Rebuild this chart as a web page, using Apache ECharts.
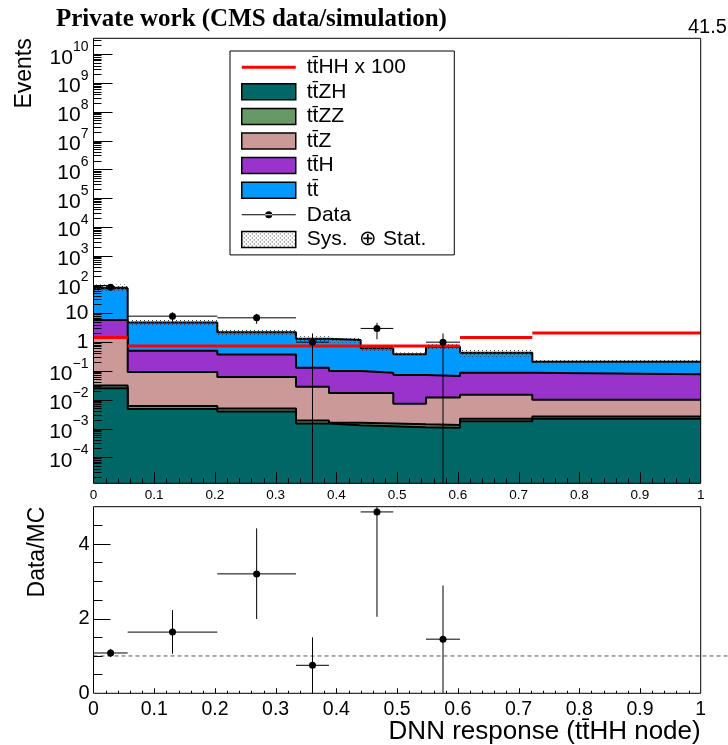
<!DOCTYPE html>
<html><head><meta charset="utf-8">
<script src="https://cdn.jsdelivr.net/npm/echarts@6/dist/echarts.min.js"></script>
<style>html,body{margin:0;padding:0;background:#fff}#c{width:728px;height:745px}</style>
</head><body><div id="c"></div>
<script>
// ---------------- data ----------------
const binEdges = [0, 0.0563, 0.2039, 0.3335, 0.3878, 0.44, 0.4937, 0.5476, 0.6036, 0.7227, 1];
// background yields per bin (stacked bottom -> top)
const ttZH = [0.025, 0.0048, 0.0039, 0.0015, 0.0013, 0.0012, 0.0011, 0.00107, 0.0018, 0.0022];
const ttZZ = [0.006, 0.0012, 0.0011, 0.0004, 0.0003, 0.0003, 0.0003, 0.00025, 0.0004, 0.0004];
const ttZ  = [1.37, 0.0852, 0.0561, 0.0261, 0.0154, 0.0155, 0.0058, 0.0107, 0.0127, 0.0074];
const ttH  = [4.5, 0.409, 0.309, 0.102, 0.083, 0.070, 0.0658, 0.055, 0.072, 0.067];
const tt   = [69.1, 4.35, 1.83, 1.19, 1.1, 0.533, 0.307, 0.623, 0.343, 0.133];
// signal x100
const ttHHx100 = [1.45, 0.74, 0.74, 0.74, 0.74, 0.74, 0.73, 0.74, 1.45, 2.1];
// syst (+) stat band edges
const bandUp   = [100, 6.0, 2.7, 1.6, 1.45, 0.8, 0.44, 0.85, 0.55, 0.25];
const bandDown = [56, 3.7, 1.7, 1.05, 0.95, 0.47, 0.33, 0.56, 0.31, 0.17];
// data
const dataVal = [81, 8, 7, 1, null, 3, null, 1, null, null];
const dataErr = [9, 2.83, 2.65, 1, null, 1.73, null, 1, null, null];
// ratio panel
const ratioVal  = [1.08, 1.64, 3.2, 0.75, null, 4.86, null, 1.45, null, null];
const ratioLow  = [0.97, 1.06, 1.99, 0, null, 2.05, null, 0, null, null];
const ratioHigh = [1.19, 2.23, 4.42, 1.5, null, 7.7, null, 2.89, null, null];
// axis ticks
const logMajor = [1e-4,1e-3,1e-2,1e-1,1,10,1e2,1e3,1e4,1e5,1e6,1e7,1e8,1e9,1e10];
const ratioMajor = [0, 2, 4];
const ratioMinor = [0.5, 1, 1.5, 2.5, 3, 3.5, 4.5];
const xMajor = [0.1, 0.2, 0.3, 0.4, 0.5, 0.6, 0.7, 0.8, 0.9];

// ---------------- helpers ----------------
const SANS = 'Liberation Sans, Arial, Helvetica, sans-serif';
const Y_MIN = 1.25e-5, Y_MAX = 3.6e10;
const logMinor = [];
for (let e = -5; e <= 10; e++) for (let k = 2; k <= 9; k++) {
  const v = k * Math.pow(10, e);
  if (v > Y_MIN && v < Y_MAX) logMinor.push(v);
}
const xMinor = [];
for (let k = 1; k < 50; k++) if (k % 5 !== 0) xMinor.push(k / 50);
function dotPattern() {
  const c = document.createElement('canvas'); c.width = 4; c.height = 4;
  const g = c.getContext('2d');
  g.fillStyle = '#3a3a3a';
  g.fillRect(0, 0, 1, 1); g.fillRect(2, 2, 1, 1);
  return { image: c, repeat: 'repeat' };
}
const pattern = dotPattern();
const nb = binEdges.length - 1;
function stepData(arr) {
  const d = [];
  for (let i = 0; i < nb; i++) d.push([binEdges[i], arr[i]]);
  d.push([binEdges[nb], arr[nb - 1]]);
  return d;
}
const colors = { ttZH: '#006666', ttZZ: '#669966', ttZ: '#cc9999', ttH: '#9933cc', tt: '#0099ff' };
const layers = [
  { name: 'tt̄ZH', vals: ttZH, color: colors.ttZH },
  { name: 'tt̄ZZ', vals: ttZZ, color: colors.ttZZ },
  { name: 'tt̄Z',  vals: ttZ,  color: colors.ttZ },
  { name: 'tt̄H',  vals: ttH,  color: colors.ttH },
  { name: 'tt̄',   vals: tt,   color: colors.tt }
];
// cumulative stack (like THStack): each layer drawn from the bottom up to its cumulative sum
const running = new Array(nb).fill(0);
const stackSeries = layers.map((l, k) => {
  const cum = l.vals.map((v, i) => (running[i] += v));
  return {
    name: l.name, type: 'line', xAxisIndex: 0, yAxisIndex: 0,
    step: 'end', data: stepData(cum.slice()),
    symbol: 'none', showSymbol: false, z: 9 - k, color: l.color,
    lineStyle: { color: '#000', width: 2 },
    areaStyle: { color: l.color, opacity: 1, origin: 'start' },
    emphasis: { disabled: true }, silent: true
  };
});

const bandData = [];
for (let i = 0; i < nb; i++) bandData.push([binEdges[i], binEdges[i + 1], bandDown[i], bandUp[i]]);
const sigData = [];
for (let i = 0; i < nb; i++) sigData.push([binEdges[i], binEdges[i + 1], ttHHx100[i]]);
const dataPts = [], ratioPts = [];
for (let i = 0; i < nb; i++) {
  if (dataVal[i] == null) continue;
  const xc = (binEdges[i] + binEdges[i + 1]) / 2;
  const lo = dataVal[i] - dataErr[i];
  dataPts.push([xc, dataVal[i], binEdges[i], binEdges[i + 1], lo > 0 ? lo : 1e-7, dataVal[i] + dataErr[i]]);
  ratioPts.push([xc, ratioVal[i], binEdges[i], binEdges[i + 1], ratioLow[i], ratioHigh[i]]);
}
function errRender(r) {
  return function (params, api) {
    const xc = api.value(0), y = api.value(1), x0 = api.value(2), x1 = api.value(3), y0 = api.value(4), y1 = api.value(5);
    const c = api.coord([xc, y]), l = api.coord([x0, y]), rr = api.coord([x1, y]);
    const d = api.coord([xc, y0]), u = api.coord([xc, y1]);
    const st = { stroke: '#000', lineWidth: 1 };
    return { type: 'group', children: [
      { type: 'line', shape: { x1: l[0], y1: l[1], x2: rr[0], y2: rr[1] }, style: st },
      { type: 'line', shape: { x1: d[0], y1: d[1], x2: u[0], y2: u[1] }, style: st },
      { type: 'circle', shape: { cx: c[0], cy: c[1], r: r }, style: { fill: '#000' } }
    ] };
  };
}
function supLabel(v) {
  const e = Math.round(Math.log10(v));
  if (e === 0) return '{n|1}';
  if (e === 1) return '{n|10}';
  return '{b|10}{s|' + (e < 0 ? '\u2212' + (-e) : e) + '}';
}
const fmt01 = v => String(Math.round(v * 10) / 10);
function yTickAxis(grid, type, min, max, values, len) {
  return { gridIndex: grid, type: type, min: min, max: max, z: 15, position: 'left',
    axisLine: { show: false, onZero: false }, axisLabel: { show: false }, splitLine: { show: false },
    axisTick: { show: true, inside: true, length: len, customValues: values, lineStyle: { color: '#000', width: 1 } } };
}
// inside tick marks placed through the axes' own scales: [x, y, length, dir(0=x-axis tick, 1=y-axis tick)]
function tickItems(xs, xLen, yVals, yLen, yBottom) {
  const out = [];
  xs.forEach(v => out.push([v, yBottom, xLen, 0]));
  yVals.forEach(v => out.push([0, v, yLen, 1]));
  return out;
}
const topTicks = tickItems(xMajor, 11, logMajor, 19, Y_MIN).concat(tickItems(xMinor, 5, [], 0, Y_MIN));
const ratioTicks = tickItems(xMajor, 5, [2, 4], 17, 0).concat(tickItems(xMinor, 2.5, [], 0, 0));
function ticksGroup(list) {
  return function (params, api) {
    const children = list.map(it => {
      const p = api.coord([it[0], it[1]]);
      if (it[3] === 0) {
        const x = Math.round(p[0]);
        return { type: 'rect', shape: { x: x, y: p[1] - it[2], width: 1, height: it[2] }, style: { fill: '#000' } };
      }
      const y = Math.round(p[1]);
      return { type: 'rect', shape: { x: p[0], y: y, width: it[2], height: 1 }, style: { fill: '#000' } };
    });
    return { type: 'group', children: children };
  };
}

const chart = echarts.init(document.getElementById('c'), null, { renderer: 'canvas' });
const option = {
  animation: false,
  backgroundColor: '#fff',
  title: [
    { text: 'Private work (CMS data/simulation)', left: 56, top: 7, padding: 0,
      textStyle: { fontFamily: 'Liberation Serif, Times New Roman, serif', fontWeight: 'bold', fontSize: 25, color: '#000' } },
    { text: '41.5 fb\u207B\u00B9 (13 TeV)', left: 688, top: 17, padding: 0,
      textStyle: { fontFamily: SANS, fontWeight: 'normal', fontSize: 20, color: '#000' } }
  ],
  grid: [
    { left: 93.5, right: 27.3, top: 38.3, height: 445, show: true, borderColor: '#000', borderWidth: 1, z: 20, backgroundColor: 'rgba(0,0,0,0)', outerBoundsMode: 'none', containLabel: false },
    { left: 93.5, right: 27.3, top: 506.7, height: 186.6, show: true, borderColor: '#000', borderWidth: 1, z: 20, backgroundColor: 'rgba(0,0,0,0)', outerBoundsMode: 'none', containLabel: false }
  ],
  legend: {
    orient: 'vertical', left: 230, top: 51, z: 30,
    padding: [5.7, 28, 5, 11], itemWidth: 54, itemHeight: 16, itemGap: 3.6,
    borderColor: '#000', borderWidth: 1, backgroundColor: '#fff',
    selectedMode: false, symbolKeepAspect: true,
    textStyle: { fontFamily: SANS, fontSize: 21, color: '#000', lineHeight: 16, padding: [0, 0, 0, 6] },
    data: [
      { name: 'tt̄HH x 100', icon: 'path://M0,0H54V3H0Z', itemStyle: { color: '#ff0000', borderWidth: 0 } },
      { name: 'tt̄ZH', icon: 'rect', itemStyle: { color: colors.ttZH, borderColor: '#000', borderWidth: 1.5 } },
      { name: 'tt̄ZZ', icon: 'rect', itemStyle: { color: colors.ttZZ, borderColor: '#000', borderWidth: 1.5 } },
      { name: 'tt̄Z', icon: 'rect', itemStyle: { color: colors.ttZ, borderColor: '#000', borderWidth: 1.5 } },
      { name: 'tt̄H', icon: 'rect', itemStyle: { color: colors.ttH, borderColor: '#000', borderWidth: 1.5 } },
      { name: 'tt̄', icon: 'rect', itemStyle: { color: colors.tt, borderColor: '#000', borderWidth: 1.5 } },
      { name: 'Data', icon: 'path://M0,7.5H54V8.5H0Z M23.5,8a3.5,3.5 0 1,0 7,0a3.5,3.5 0 1,0 -7,0Z', itemStyle: { color: '#000', borderWidth: 0 } },
      { name: 'Sys.  \u2295 Stat.', icon: 'rect', itemStyle: { color: pattern, borderColor: '#000', borderWidth: 1.5 } }
    ]
  },
  xAxis: [
    { gridIndex: 0, type: 'value', min: 0, max: 1, interval: 0.1, z: 15, position: 'bottom',
      axisLine: { show: false, onZero: false }, axisTick: { show: false }, minorTick: { show: false },
      axisLabel: { fontFamily: SANS, fontSize: 13.5, color: '#000', margin: 5, formatter: fmt01 },
      splitLine: { show: false } },
    { gridIndex: 1, type: 'value', min: 0, max: 1, interval: 0.1, z: 15, position: 'bottom',
      name: 'DNN response (tt̄HH node)', nameLocation: 'end', nameGap: 0, nameMoveOverlap: false,
      nameTextStyle: { fontFamily: SANS, fontSize: 26, color: '#000', align: 'right', verticalAlign: 'top', padding: [26, 0, 0, 0] },
      axisLine: { show: false, onZero: false }, axisTick: { show: false }, minorTick: { show: false },
      axisLabel: { fontFamily: SANS, fontSize: 19.5, color: '#000', margin: 6, formatter: fmt01 },
      splitLine: { show: false } }
  ],
  yAxis: [
    { gridIndex: 0, type: 'log', min: Y_MIN, max: Y_MAX, z: 15, position: 'left',
      name: 'Events', nameLocation: 'end', nameGap: 0, nameRotate: 90, nameMoveOverlap: false,
      nameTextStyle: { fontFamily: SANS, fontSize: 23, color: '#000', align: 'right', verticalAlign: 'bottom', padding: [0, 0, 57, 0] },
      axisLine: { show: false, onZero: false }, axisTick: { show: false },
      axisLabel: { customValues: logMajor, margin: 5, color: '#000', formatter: supLabel,
        rich: {
          n: { fontFamily: SANS, fontSize: 21, color: '#000' },
          b: { fontFamily: SANS, fontSize: 21, color: '#000', lineHeight: 28, verticalAlign: 'bottom' },
          s: { fontFamily: SANS, fontSize: 14, color: '#000', lineHeight: 14, verticalAlign: 'top' }
        } },
      splitLine: { show: false } },
    yTickAxis(0, 'log', Y_MIN, Y_MAX, logMinor, 8),
    { gridIndex: 1, type: 'value', min: 0, max: 5, z: 15, position: 'left',
      name: 'Data/MC', nameLocation: 'end', nameGap: 0, nameRotate: 90, nameMoveOverlap: false,
      nameTextStyle: { fontFamily: SANS, fontSize: 23, color: '#000', align: 'right', verticalAlign: 'bottom', padding: [0, 0, 44, 0] },
      axisLine: { show: false, onZero: false }, axisTick: { show: false },
      axisLabel: { customValues: ratioMajor, fontFamily: SANS, fontSize: 20, color: '#000', margin: 4 },
      splitLine: { show: false } },
    yTickAxis(1, 'value', 0, 5, ratioMinor, 9)
  ],
  series: [
    ...stackSeries,
    { name: 'Sys.  \u2295 Stat.', type: 'custom', xAxisIndex: 0, yAxisIndex: 0, z: 10, clip: true, silent: true,
      data: bandData, encode: { x: [0, 1], y: [2, 3] },
      renderItem: function (params, api) {
        const p1 = api.coord([api.value(0), api.value(3)]);
        const p2 = api.coord([api.value(1), api.value(2)]);
        return { type: 'rect', shape: { x: p1[0], y: p1[1], width: p2[0] - p1[0], height: p2[1] - p1[1] },
          style: { fill: pattern } };
      } },
    { name: 'tt̄HH x 100', type: 'custom', xAxisIndex: 0, yAxisIndex: 0, z: 11, clip: true, silent: true,
      data: sigData, encode: { x: [0, 1], y: 2 },
      renderItem: function (params, api) {
        const a = api.coord([api.value(0), api.value(2)]);
        const b = api.coord([api.value(1), api.value(2)]);
        return { type: 'line', shape: { x1: a[0], y1: a[1], x2: b[0], y2: b[1] }, style: { stroke: '#ff0000', lineWidth: 3 } };
      } },
    { name: 'Data', type: 'custom', xAxisIndex: 0, yAxisIndex: 0, z: 12, clip: true, silent: true,
      data: dataPts, encode: { x: [0, 2, 3], y: [1, 4, 5] }, renderItem: errRender(3.5) },
    { name: 'ratioOne', type: 'custom', xAxisIndex: 1, yAxisIndex: 2, z: 11, clip: false, silent: true,
      data: [[0, 1]], encode: { x: 0, y: 1 },
      renderItem: function (params, api) {
        const a = api.coord([api.value(0), api.value(1)]);
        return { type: 'line', shape: { x1: a[0], y1: a[1], x2: api.getWidth(), y2: a[1] },
          style: { stroke: '#555', lineWidth: 1, lineDash: [4, 3] } };
      } },
    { name: 'Data/MC', type: 'custom', xAxisIndex: 1, yAxisIndex: 2, z: 12, clip: true, silent: true,
      data: ratioPts, encode: { x: [0, 2, 3], y: [1, 4, 5] }, renderItem: errRender(3.5) },
    { name: 'topTicks', type: 'custom', xAxisIndex: 0, yAxisIndex: 0, z: 11, clip: false, silent: true,
      data: [[0.5, 1]], encode: { x: 0, y: 1 }, renderItem: ticksGroup(topTicks) },
    { name: 'ratioTicks', type: 'custom', xAxisIndex: 1, yAxisIndex: 2, z: 11, clip: false, silent: true,
      data: [[0.5, 1]], encode: { x: 0, y: 1 }, renderItem: ticksGroup(ratioTicks) }
  ]
};
chart.setOption(option);
</script>
</body></html>
